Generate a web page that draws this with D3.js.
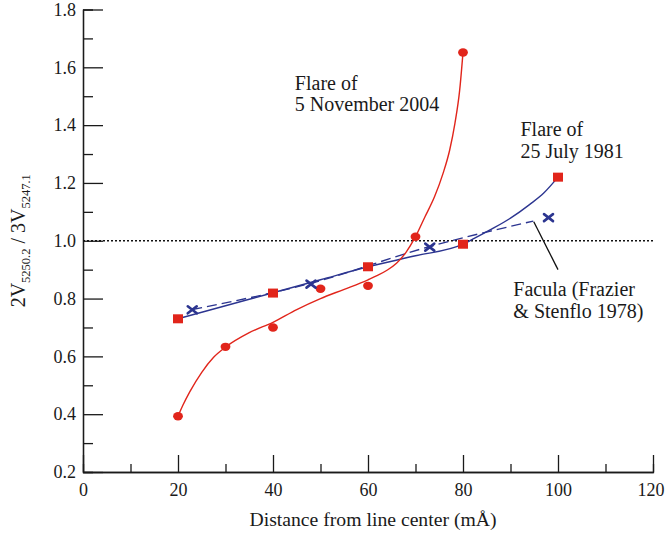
<!DOCTYPE html>
<meta charset="utf-8">
<head>
<style>
body { margin: 0; background: #fff; }
svg { display: block; font-family: "Liberation Serif", "Times New Roman", serif; }
.axis path, .axis line { stroke: #1a1a1a; stroke-width: 1.3; fill: none; }
.axis text { font-size: 18px; fill: #1a1a1a; font-family: "Liberation Serif", "Times New Roman", serif; }
.note { font-size: 20px; fill: #1a1a1a; }
</style>
<script src="https://d3js.org/d3.v7.min.js"></script>
</head>
<body>
<svg id="plot" width="665" height="535"></svg>
<script>

// flare of 5 November 2004 (red circles) and the curve drawn through them
var nov2004X = [20, 30, 40, 50, 60, 70, 80];
var nov2004Y = [0.393, 0.633, 0.70, 0.834, 0.844, 1.014, 1.651];
var nov2004FitX = [20, 21, 22.5, 25, 27.5, 30, 35, 40, 45, 50, 55, 60, 62, 64, 66, 68, 70, 72, 74, 75.8, 77.2, 78.3, 79.3, 80];
var nov2004FitY = [0.393, 0.43, 0.478, 0.545, 0.597, 0.632, 0.682, 0.718, 0.762, 0.8, 0.832, 0.865, 0.88, 0.898, 0.922, 0.96, 1.014, 1.083, 1.152, 1.233, 1.314, 1.406, 1.521, 1.651];

// flare of 25 July 1981 (red squares, blue solid curve)
var jul1981X = [20, 40, 60, 80, 100];
var jul1981Y = [0.73, 0.819, 0.91, 0.988, 1.22];
var jul1981FitX = [20, 30, 40, 50, 60, 70, 80, 82, 86, 90, 94, 97, 100];
var jul1981FitY = [0.73, 0.775, 0.82, 0.865, 0.91, 0.948, 0.988, 1.005, 1.04, 1.078, 1.125, 1.165, 1.22];

// facula, Frazier & Stenflo 1978 (blue crosses, dashed curve)
var faculaX = [23, 48, 73, 98];
var faculaY = [0.761, 0.85, 0.978, 1.08];
var faculaFitX = [23, 48, 73, 94.8];
var faculaFitY = [0.762, 0.853, 0.98, 1.068];

var xTicks = [0, 20, 40, 60, 80, 100, 120];
var xMinor = [10, 30, 50, 70, 90, 110];
var yTicks = [0.2, 0.4, 0.6, 0.8, 1.0, 1.2, 1.4, 1.6, 1.8];
var yMinor = [0.3, 0.5, 0.7, 0.9, 1.1, 1.3, 1.5, 1.7];

var red = "#e1251b", blue = "#2c3590";

var svg = d3.select("svg"),
    margin = {top: 9.5, right: 12, bottom: 63, left: 83},
    width = svg.attr("width") - margin.left - margin.right,
    height = svg.attr("height") - margin.top - margin.bottom;

var x = d3.scaleLinear().domain([0, 120]).range([0, width]);
var y = d3.scaleLinear().domain([0.2, 1.8]).range([height, 0]);

var g = svg.append("g")
    .attr("transform", "translate(" + margin.left + "," + margin.top + ")");

function zip(xs, ys) { return xs.map(function(v, i) { return [v, ys[i]]; }); }

// axes, ticks pointing inward
g.append("g").attr("class", "axis")
    .call(d3.axisLeft(y).tickValues(yMinor).tickSize(-10).tickFormat(""));
g.append("g").attr("class", "axis")
    .attr("transform", "translate(0," + height + ")")
    .call(d3.axisBottom(x).tickValues(xMinor).tickSize(-8).tickFormat(""));

g.append("g").attr("class", "axis")
    .call(d3.axisLeft(y).tickValues(yTicks).tickSize(-20).tickSizeOuter(0)
      .tickPadding(7).tickFormat(d3.format(".1f")));
var xAx = g.append("g").attr("class", "axis")
    .attr("transform", "translate(0," + height + ")")
    .call(d3.axisBottom(x).tickValues(xTicks).tickSize(-17).tickSizeOuter(0)
      .tickPadding(11.5).tickFormat(d3.format("d")));
// last label sits against the right edge
xAx.selectAll(".tick text").filter(function(d) { return d === 120; })
    .attr("dx", -2.5);

// reference line at 1.0
g.append("line")
    .attr("x1", x(0)).attr("x2", x(120))
    .attr("y1", y(1)).attr("y2", y(1))
    .attr("stroke", "#111").attr("stroke-width", 1.3)
    .attr("stroke-dasharray", "2,2");

var line = d3.line()
    .x(function(d) { return x(d[0]); })
    .y(function(d) { return y(d[1]); })
    .curve(d3.curveMonotoneX);

g.append("path").datum(zip(faculaFitX, faculaFitY))
    .attr("d", line).attr("fill", "none")
    .attr("stroke", blue).attr("stroke-width", 1.4)
    .attr("stroke-dasharray", "10,5");

g.append("path").datum(zip(jul1981FitX, jul1981FitY))
    .attr("d", line).attr("fill", "none")
    .attr("stroke", blue).attr("stroke-width", 1.4);

g.append("path").datum(zip(nov2004FitX, nov2004FitY))
    .attr("d", line).attr("fill", "none")
    .attr("stroke", red).attr("stroke-width", 1.4);

// markers
g.selectAll(".circ").data(zip(nov2004X, nov2004Y)).enter()
  .append("ellipse").attr("class", "circ")
    .attr("cx", function(d) { return x(d[0]); })
    .attr("cy", function(d) { return y(d[1]); })
    .attr("rx", 4.9).attr("ry", 4.2)
    .attr("fill", red);

g.selectAll(".sq").data(zip(jul1981X, jul1981Y)).enter()
  .append("rect").attr("class", "sq")
    .attr("x", function(d) { return x(d[0]) - 5; })
    .attr("y", function(d) { return y(d[1]) - 4.5; })
    .attr("width", 10).attr("height", 9)
    .attr("fill", red);

g.selectAll(".cross").data(zip(faculaX, faculaY)).enter()
  .append("path").attr("class", "cross")
    .attr("transform", function(d) { return "translate(" + x(d[0]) + "," + y(d[1]) + ")"; })
    .attr("d", "M-4.5,-3.5L4.5,3.5M-4.5,3.5L4.5,-3.5")
    .attr("stroke", blue).attr("stroke-width", 2.6)
    .attr("stroke-linecap", "round");

// pointer to the facula curve
g.append("line")
    .attr("x1", x(94.9)).attr("y1", y(1.066))
    .attr("x2", x(100)).attr("y2", y(0.9))
    .attr("stroke", "#111").attr("stroke-width", 1.3);

// annotations
function note(lines, xv, yv) {
  var t = g.append("text").attr("class", "note")
      .attr("x", x(xv)).attr("y", y(yv));
  lines.forEach(function(s, i) {
    t.append("tspan").attr("x", x(xv)).attr("dy", i ? 21.5 : 0).text(s);
  });
}
note(["Flare of", "5 November 2004"], 44.6, 1.523);
note(["Flare of", "25 July 1981"], 92.1, 1.362);
note(["Facula (Frazier", "& Stenflo 1978)"], 90.6, 0.808);

// axis titles
svg.append("text")
    .attr("x", 373).attr("y", 526)
    .attr("text-anchor", "middle")
    .style("font-size", "19.7px").attr("fill", "#1a1a1a")
    .text("Distance from line center (mÅ)");

var yl = svg.append("text")
    .attr("transform", "translate(25," + (margin.top + y(1.0)) + ") rotate(-90)")
    .attr("text-anchor", "middle")
    .style("font-size", "20px").attr("fill", "#1a1a1a");
yl.append("tspan").text("2V");
yl.append("tspan").attr("dy", 5).style("font-size", "12.5px").text("5250.2");
yl.append("tspan").attr("dy", -5).text(" / 3V");
yl.append("tspan").attr("dy", 5).style("font-size", "12.5px").text("5247.1");

</script>
</body>
